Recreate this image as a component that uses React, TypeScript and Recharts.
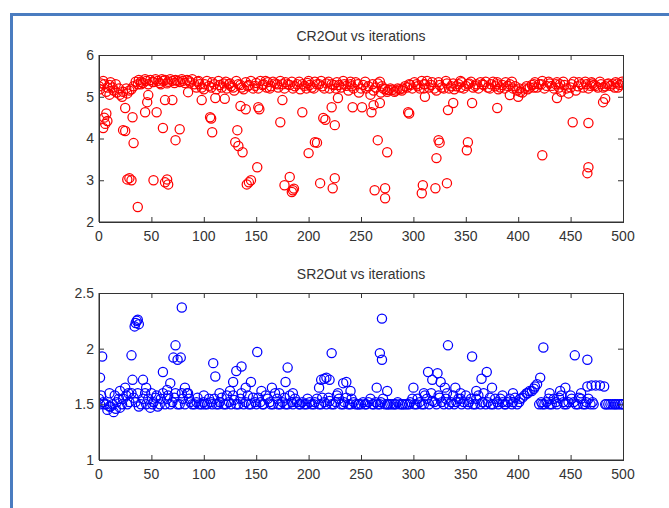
import React from "react";
import { ScatterChart, Scatter, XAxis, YAxis } from "recharts";

type Pt = [number, number];

// iteration axis
const iterTicks = [0, 50, 100, 150, 200, 250, 300, 350, 400, 450, 500];
const crTicks = [2, 3, 4, 5, 6];
const srTicks = [1, 1.5, 2, 2.5];

// CR2Out: dense band near 5.3
const crBand: Pt[] = [
  [0, 5.25], [2, 5.32], [5, 5.3], [8, 5.22], [11, 5.35], [14, 5.15], [17, 5.1], [20, 5.05], [23, 5.12], [27, 5.08],
  [31, 5.18], [35, 5.36], [38, 5.4], [42, 5.33], [45, 5.38], [49, 5.4], [52, 5.35], [56, 5.38], [59, 5.3], [63, 5.4],
  [66, 5.36], [70, 5.38], [73, 5.4], [77, 5.35], [80, 5.38], [84, 5.4], [87, 5.34], [91, 5.3], [94, 5.36], [98, 5.22],
  [101, 5.3], [105, 5.26], [108, 5.35], [112, 5.18], [115, 5.28], [119, 5.32], [122, 5.2], [126, 5.25], [129, 5.15], [133, 5.3],
  [136, 5.22], [140, 5.35], [143, 5.28], [147, 5.2], [150, 5.33], [154, 5.38], [157, 5.3], [161, 5.35], [164, 5.25], [168, 5.32],
  [171, 5.22], [175, 5.3], [178, 5.35], [182, 5.28], [185, 5.2], [189, 5.3], [192, 5.18], [196, 5.26], [199, 5.33], [203, 5.22],
  [206, 5.36], [210, 5.3], [213, 5.25], [217, 5.32], [220, 5.2], [224, 5.28], [227, 5.35], [231, 5.22], [234, 5.3], [238, 5.15],
  [241, 5.25], [245, 5.35], [248, 5.1], [252, 5.28], [255, 5.2], [259, 5.05], [262, 5.15], [266, 5.32], [269, 5.1], [273, 5.18],
  [276, 5.16], [280, 5.17], [283, 5.15], [287, 5.18], [290, 5.2], [294, 5.22], [297, 5.28], [301, 5.35], [304, 5.25], [308, 5.38],
  [311, 5.3], [315, 5.22], [318, 5.35], [322, 5.15], [325, 5.28], [329, 5.2], [332, 5.32], [336, 5.25], [339, 5.18], [343, 5.3],
  [346, 5.35], [350, 5.26], [353, 5.32], [357, 5.22], [360, 5.3], [364, 5.35], [367, 5.28], [371, 5.22], [374, 5.3], [378, 5.25],
  [381, 5.18], [385, 5.28], [388, 5.35], [392, 5.3], [395, 5.2], [399, 5.15], [402, 5.12], [406, 5.2], [409, 5.18], [413, 5.28],
  [416, 5.35], [420, 5.3], [423, 5.38], [427, 5.26], [430, 5.32], [434, 5.2], [437, 5.35], [441, 5.12], [444, 5.28], [448, 5.08],
  [451, 5.3], [455, 5.15], [458, 5.35], [462, 5.22], [465, 5.3], [469, 5.26], [472, 5.28], [476, 5.22], [479, 5.3], [483, 5.25],
  [486, 5.32], [490, 5.3], [493, 5.35], [497, 5.28], [500, 5.32],
  [10, 5.05], [40, 5.3], [60, 5.42], [95, 5.38], [125, 5.32], [160, 5.22], [200, 5.38], [240, 5.3], [270, 5.25], [310, 5.2],
  [345, 5.22], [380, 5.35], [415, 5.22], [440, 5.3], [470, 5.35], [495, 5.22],
];

// CR2Out: second row of the band
const crBand2: Pt[] = [
  [1, 5.18], [4, 5.38], [7, 5.12], [10, 5.28], [13, 5.22], [16, 5.3], [19, 5.2], [22, 5.0], [26, 5.2], [29, 5.15],
  [33, 5.25], [37, 5.3], [40, 5.36], [44, 5.42], [47, 5.3], [51, 5.36], [54, 5.42], [58, 5.33], [61, 5.38], [65, 5.32],
  [68, 5.42], [72, 5.33], [75, 5.38], [79, 5.42], [82, 5.33], [86, 5.38], [89, 5.42], [93, 5.22], [96, 5.3], [100, 5.18],
  [103, 5.38], [107, 5.22], [110, 5.3], [114, 5.38], [117, 5.22], [121, 5.36], [124, 5.3], [128, 5.22], [131, 5.38], [135, 5.28],
  [138, 5.18], [142, 5.25], [145, 5.38], [149, 5.26], [152, 5.2], [156, 5.28], [159, 5.38], [163, 5.2], [166, 5.36], [170, 5.3],
  [173, 5.38], [177, 5.2], [180, 5.3], [184, 5.36], [187, 5.25], [191, 5.36], [194, 5.3], [198, 5.2], [201, 5.28], [205, 5.2],
  [208, 5.3], [212, 5.38], [215, 5.2], [219, 5.36], [222, 5.3], [226, 5.2], [229, 5.28], [233, 5.38], [236, 5.26], [240, 5.36],
  [243, 5.2], [247, 5.3], [250, 5.2], [254, 5.36], [257, 5.25], [261, 5.3], [264, 5.22], [268, 5.36], [271, 5.2], [275, 5.12],
  [278, 5.2], [282, 5.12], [285, 5.2], [289, 5.15], [292, 5.25], [296, 5.3], [299, 5.2], [303, 5.3], [306, 5.2], [310, 5.3],
  [313, 5.38], [317, 5.28], [320, 5.2], [324, 5.35], [327, 5.22], [331, 5.38], [334, 5.2], [338, 5.32], [341, 5.25], [345, 5.38],
  [348, 5.2], [352, 5.3], [355, 5.36], [359, 5.26], [362, 5.2], [366, 5.3], [369, 5.36], [373, 5.2], [376, 5.36], [380, 5.3],
  [383, 5.22], [387, 5.2], [390, 5.26], [394, 5.36], [397, 5.25], [401, 5.2], [404, 5.1], [408, 5.25], [411, 5.22], [415, 5.3],
  [418, 5.22], [422, 5.3], [425, 5.2], [429, 5.36], [432, 5.26], [436, 5.3], [439, 5.22], [443, 5.36], [446, 5.2], [450, 5.22],
  [453, 5.36], [457, 5.25], [460, 5.3], [464, 5.36], [467, 5.2], [471, 5.32], [474, 5.26], [478, 5.36], [481, 5.22], [485, 5.3],
  [488, 5.26], [492, 5.22], [495, 5.32], [499, 5.36],
];

// CR2Out: scattered low values
const crLow: Pt[] = [
  [5, 4.5], [6, 4.35], [8, 4.42], [7, 4.6], [4, 4.25], [23, 4.2], [25, 4.18], [25, 4.73], [32, 4.51], [33, 3.89],
  [27, 3.02], [29, 3.05], [31, 3.0], [37, 2.36], [44, 4.63], [46, 4.87], [47, 5.04], [52, 3.0], [55, 4.63], [61, 4.25],
  [63, 4.92], [63, 2.95], [65, 3.02], [66, 2.9], [70, 4.92], [73, 3.96], [77, 4.22], [85, 5.11], [98, 4.92], [106, 4.51],
  [107, 4.48], [108, 4.15], [111, 4.97], [120, 4.95], [130, 3.91], [132, 4.2], [133, 3.82], [137, 3.67], [135, 4.78], [140, 4.7],
  [141, 2.9], [143, 2.95], [145, 3.0], [151, 3.31], [152, 4.75], [153, 4.7], [173, 4.39], [175, 4.92], [177, 2.88], [182, 3.08],
  [184, 2.72], [186, 2.8], [185, 2.76], [194, 4.63], [200, 3.65], [206, 3.91], [208, 3.9], [211, 2.93], [214, 4.49], [216, 4.45],
  [222, 4.75], [223, 2.81], [225, 3.05], [225, 4.32], [228, 4.97], [242, 4.75], [251, 4.75], [260, 4.63], [262, 4.8], [263, 2.76],
  [266, 3.96], [268, 4.85], [273, 2.81], [273, 2.57], [275, 3.67], [295, 4.63], [296, 4.6], [308, 2.69], [309, 2.88], [311, 5.0],
  [321, 2.81], [322, 3.53], [324, 3.96], [325, 3.9], [332, 2.93], [333, 4.68], [338, 4.85], [351, 3.72], [352, 3.91], [356, 4.85],
  [380, 4.73], [392, 5.04], [400, 5.0], [423, 3.6], [437, 4.97], [452, 4.39], [466, 3.17], [467, 3.31], [467, 4.37], [481, 4.87],
  [483, 4.95],
];

// SR2Out: dense band near 1.5
const srBand: Pt[] = [
  [0, 1.55], [2, 1.58], [5, 1.5], [8, 1.45], [11, 1.48], [14, 1.43], [17, 1.52], [20, 1.47], [23, 1.55], [27, 1.5],
  [31, 1.6], [35, 1.52], [38, 1.48], [42, 1.55], [45, 1.5], [49, 1.47], [52, 1.52], [56, 1.48], [59, 1.55], [63, 1.5],
  [66, 1.58], [70, 1.52], [73, 1.6], [77, 1.5], [80, 1.55], [84, 1.6], [87, 1.52], [91, 1.5], [94, 1.56], [98, 1.5],
  [101, 1.5], [105, 1.55], [108, 1.5], [112, 1.5], [115, 1.52], [119, 1.5], [122, 1.58], [126, 1.5], [129, 1.54], [133, 1.5],
  [136, 1.6], [140, 1.52], [143, 1.5], [147, 1.56], [150, 1.5], [154, 1.52], [157, 1.5], [161, 1.55], [164, 1.5], [168, 1.6],
  [171, 1.5], [175, 1.52], [178, 1.5], [182, 1.58], [185, 1.5], [189, 1.52], [192, 1.5], [196, 1.5], [199, 1.55], [203, 1.5],
  [206, 1.52], [210, 1.5], [213, 1.56], [217, 1.5], [220, 1.53], [224, 1.5], [227, 1.58], [231, 1.5], [234, 1.52], [238, 1.5],
  [241, 1.55], [245, 1.5], [248, 1.5], [252, 1.52], [255, 1.5], [259, 1.55], [262, 1.5], [266, 1.5], [269, 1.52], [273, 1.5],
  [276, 1.5], [280, 1.5], [283, 1.5], [287, 1.5], [290, 1.5], [294, 1.5], [297, 1.52], [301, 1.5], [304, 1.55], [308, 1.5],
  [311, 1.58], [315, 1.5], [318, 1.53], [322, 1.5], [325, 1.56], [329, 1.5], [332, 1.6], [336, 1.52], [339, 1.5], [343, 1.55],
  [346, 1.5], [350, 1.58], [353, 1.52], [357, 1.5], [360, 1.55], [364, 1.5], [367, 1.6], [371, 1.52], [374, 1.5], [378, 1.55],
  [381, 1.5], [385, 1.52], [388, 1.5], [392, 1.55], [395, 1.52], [399, 1.5], [402, 1.55], [406, 1.58], [409, 1.6], [413, 1.62],
  [416, 1.66], [420, 1.5], [423, 1.5], [427, 1.52], [430, 1.5], [434, 1.55], [437, 1.5], [441, 1.58], [444, 1.5], [448, 1.52],
  [451, 1.55], [455, 1.5], [458, 1.56], [462, 1.5], [465, 1.52], [469, 1.5], [472, 1.5], [483, 1.5], [486, 1.5], [490, 1.5],
  [493, 1.5], [497, 1.5], [500, 1.5],
];

// SR2Out: second row of the band
const srBand2: Pt[] = [
  [1, 1.5], [4, 1.52], [7, 1.5], [10, 1.48], [13, 1.5], [16, 1.46], [19, 1.55], [22, 1.5], [26, 1.58], [29, 1.52],
  [33, 1.56], [37, 1.6], [40, 1.5], [44, 1.6], [47, 1.55], [51, 1.5], [54, 1.56], [58, 1.5], [61, 1.6], [65, 1.55],
  [68, 1.5], [72, 1.56], [75, 1.5], [79, 1.6], [82, 1.5], [86, 1.55], [89, 1.5], [93, 1.52], [96, 1.5], [100, 1.52],
  [103, 1.5], [107, 1.52], [110, 1.55], [114, 1.5], [117, 1.56], [121, 1.5], [124, 1.52], [128, 1.58], [131, 1.5], [135, 1.55],
  [138, 1.5], [142, 1.58], [145, 1.5], [149, 1.52], [152, 1.56], [156, 1.5], [159, 1.58], [163, 1.52], [166, 1.5], [170, 1.55],
  [173, 1.5], [177, 1.56], [180, 1.5], [184, 1.52], [187, 1.55], [191, 1.5], [194, 1.52], [198, 1.5], [201, 1.52], [205, 1.5],
  [208, 1.55], [212, 1.5], [215, 1.52], [219, 1.56], [222, 1.5], [226, 1.52], [229, 1.55], [233, 1.5], [236, 1.56], [240, 1.5],
  [243, 1.52], [247, 1.5], [250, 1.5], [254, 1.5], [257, 1.52], [261, 1.5], [264, 1.52], [268, 1.5], [271, 1.55], [275, 1.5],
  [278, 1.5], [282, 1.5], [285, 1.52], [289, 1.5], [292, 1.5], [296, 1.5], [299, 1.55], [303, 1.5], [306, 1.52], [310, 1.5],
  [313, 1.55], [317, 1.6], [320, 1.52], [324, 1.58], [327, 1.52], [331, 1.55], [334, 1.5], [338, 1.58], [341, 1.52], [345, 1.55],
  [348, 1.52], [352, 1.5], [355, 1.55], [359, 1.5], [362, 1.58], [366, 1.52], [369, 1.5], [373, 1.56], [376, 1.5], [380, 1.52],
  [383, 1.55], [387, 1.5], [390, 1.52], [394, 1.5], [397, 1.56], [401, 1.52], [404, 1.56], [408, 1.6], [411, 1.62], [415, 1.64],
  [418, 1.68], [422, 1.52], [425, 1.5], [429, 1.55], [432, 1.5], [436, 1.52], [439, 1.56], [443, 1.52], [446, 1.5], [450, 1.58],
  [453, 1.52], [457, 1.5], [460, 1.55], [464, 1.5], [467, 1.55], [471, 1.52], [484, 1.5], [488, 1.5], [492, 1.5], [495, 1.5],
  [499, 1.5],
];

// SR2Out: scattered high values
const srHigh: Pt[] = [
  [1, 1.74], [3, 1.93], [10, 1.6], [15, 1.58], [20, 1.62], [25, 1.65], [28, 1.6], [31, 1.94], [32, 1.72], [34, 2.2],
  [35, 2.23], [36, 2.25], [37, 2.26], [38, 2.22], [42, 1.72], [45, 1.65], [50, 1.6], [55, 1.58], [61, 1.79], [65, 1.63],
  [68, 1.69], [71, 1.92], [73, 2.03], [75, 1.9], [78, 1.92], [79, 2.37], [82, 1.65], [85, 1.6], [100, 1.58], [109, 1.87],
  [111, 1.75], [115, 1.6], [125, 1.62], [128, 1.7], [131, 1.8], [136, 1.84], [140, 1.65], [145, 1.7], [151, 1.97], [155, 1.62],
  [165, 1.65], [172, 1.6], [178, 1.7], [180, 1.83], [185, 1.6], [210, 1.65], [212, 1.72], [215, 1.73], [217, 1.74], [220, 1.72],
  [222, 1.96], [228, 1.6], [233, 1.69], [236, 1.7], [240, 1.62], [265, 1.65], [268, 1.96], [270, 1.9], [270, 2.27], [275, 1.62],
  [300, 1.65], [310, 1.6], [314, 1.79], [318, 1.72], [323, 1.78], [326, 1.7], [330, 1.65], [333, 2.03], [340, 1.65], [345, 1.6],
  [356, 1.93], [360, 1.62], [365, 1.73], [370, 1.79], [375, 1.65], [385, 1.58], [395, 1.6], [421, 1.74], [424, 2.01], [430, 1.6],
  [440, 1.62], [445, 1.65], [454, 1.94], [460, 1.6], [466, 1.9], [466, 1.66], [470, 1.67], [474, 1.67], [478, 1.67], [482, 1.66],
];

const toRows = (pts: Pt[]) => pts.map(([x, y]) => ({ x, y }));

const ring = (color: string) => (props: any) =>
  <circle cx={props.cx} cy={props.cy} r={4.6} fill="none" stroke={color} strokeWidth={1.25} />;

const font = { fontFamily: "Liberation Sans, Arial, sans-serif", fontSize: 14, fill: "#333" };
const axisColor = "#333";

// plot box inside each panel
const W = 669, H = 250;
const M = { top: 55, right: 46, bottom: 0, left: 69 };
const Y_AXIS_W = 30, X_AXIS_H = 28;
const box = { x: M.left + Y_AXIS_W, y: M.top, w: W - M.left - Y_AXIS_W - M.right, h: H - M.top - X_AXIS_H };

// MATLAB-style closed box with inward ticks on all four sides
function AxesBox({ yTicks }: { yTicks: number[] }) {
  const y0 = yTicks[0], y1 = yTicks[yTicks.length - 1];
  const xMax = iterTicks[iterTicks.length - 1];
  const px = (v: number) => box.x + (v / xMax) * box.w;
  const py = (v: number) => box.y + box.h - ((v - y0) / (y1 - y0)) * box.h;
  const t = 5;
  return (
    <svg width={W} height={H} style={{ position: "absolute", left: 0, top: 0, pointerEvents: "none" }}>
      <rect x={box.x + 0.5} y={box.y + 0.5} width={box.w} height={box.h} fill="none" stroke={axisColor} />
      {iterTicks.map((v) => (
        <g key={"x" + v} stroke={axisColor}>
          <line x1={px(v) + 0.5} x2={px(v) + 0.5} y1={box.y} y2={box.y + t} />
          <line x1={px(v) + 0.5} x2={px(v) + 0.5} y1={box.y + box.h} y2={box.y + box.h - t} />
        </g>
      ))}
      {yTicks.map((v) => (
        <g key={"y" + v} stroke={axisColor}>
          <line x1={box.x} x2={box.x + t} y1={py(v) + 0.5} y2={py(v) + 0.5} />
          <line x1={box.x + box.w} x2={box.x + box.w - t} y1={py(v) + 0.5} y2={py(v) + 0.5} />
        </g>
      ))}
    </svg>
  );
}

function Panel({ top, title, yTicks, color, series }: any) {
  const dom = [yTicks[0], yTicks[yTicks.length - 1]];
  return (
    <div style={{ position: "absolute", left: 0, top, width: W, height: H }}>
      <div style={{ position: "absolute", left: box.x, width: box.w, top: 28, textAlign: "center", fontFamily: font.fontFamily, fontSize: 14, color: "#333" }}>
        {title}
      </div>
      <ScatterChart width={W} height={H} margin={M}>
        <XAxis dataKey="x" type="number" domain={[0, 500]} ticks={iterTicks} allowDataOverflow
          height={X_AXIS_H} tickSize={-5} tickMargin={14} tickLine={false} tick={font} stroke={axisColor} />
        <YAxis dataKey="y" type="number" domain={dom} ticks={yTicks} allowDataOverflow
          width={Y_AXIS_W} tickSize={-5} tickMargin={10} tickLine={false} tick={font} stroke={axisColor} />
        {series.map((d: Pt[], i: number) => (
          <Scatter key={i} data={toRows(d)} shape={ring(color)} isAnimationActive={false} />
        ))}
      </ScatterChart>
      <AxesBox yTicks={yTicks} />
    </div>
  );
}

export default function App() {
  return (
    <div style={{ position: "absolute", left: 0, top: 0, width: 669, height: 508, background: "#fff", overflow: "hidden" }}>
      <div style={{ position: "absolute", left: 10, top: 13, right: -5, bottom: -5, borderLeft: "3px solid #4a7cc0", borderTop: "3px solid #4a7cc0" }} />
      <Panel top={0} title="CR2Out vs iterations" yTicks={crTicks} color="#ff0000" series={[crBand, crBand2, crLow]} />
      <Panel top={238} title="SR2Out vs iterations" yTicks={srTicks} color="#0000ff" series={[srBand, srBand2, srHigh]} />
    </div>
  );
}
